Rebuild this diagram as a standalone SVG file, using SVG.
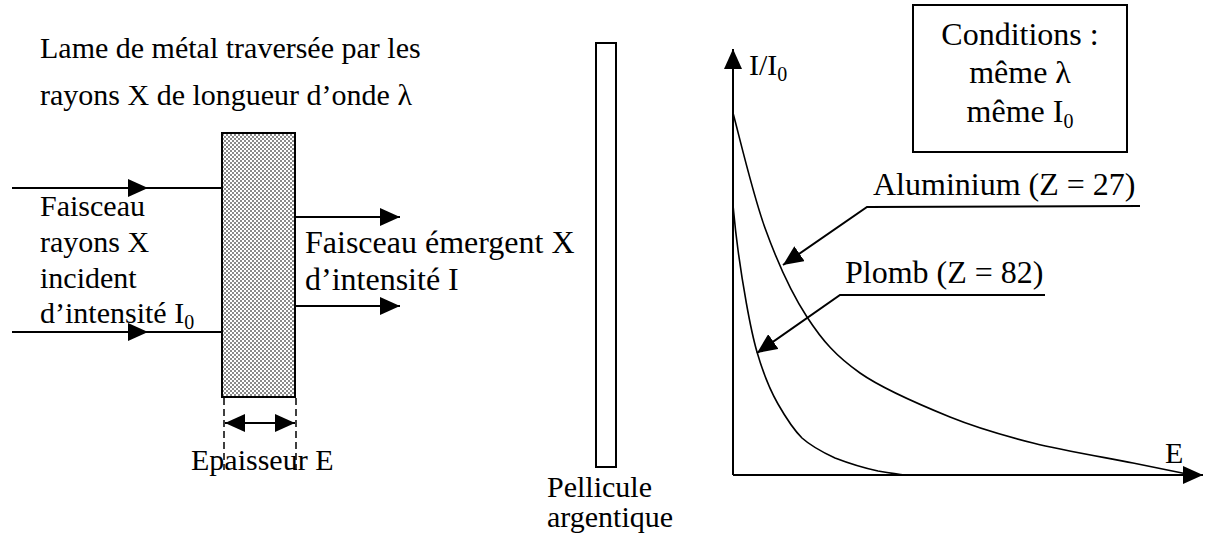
<svg xmlns="http://www.w3.org/2000/svg" width="1207" height="545" viewBox="0 0 1207 545">
<style>
text{font-family:"Liberation Serif","Times New Roman",serif;font-size:30px;fill:#000}
.big{font-size:32px}
.sub{font-size:20px}
.ln{stroke:#000;stroke-width:2;fill:none}
.dash{stroke:#000;stroke-width:1.5;stroke-dasharray:7,4;fill:none}
.curve{stroke:#000;stroke-width:1.6;fill:none}
</style>
<defs>
<marker id="ah" markerUnits="userSpaceOnUse" markerWidth="22" markerHeight="18" refX="20" refY="9" orient="auto">
<path d="M0,0 L20,9 L0,18 Z" fill="#000"/>
</marker>
<marker id="ahs" markerUnits="userSpaceOnUse" markerWidth="22" markerHeight="18" refX="0" refY="9" orient="auto">
<path d="M20,0 L0,9 L20,18 Z" fill="#000"/>
</marker>
<pattern id="dots" width="4" height="4" patternUnits="userSpaceOnUse">
<rect width="4" height="4" fill="#ffffff"/>
<rect x="0" y="0" width="2" height="2" fill="#8a8a8a"/>
<rect x="2" y="2" width="2" height="2" fill="#8a8a8a"/>
</pattern>
</defs>

<g id="title">
<text x="40" y="58">Lame de métal traversée par les</text>
<text x="40" y="105">rayons X de longueur d’onde λ</text>
</g>

<g id="plate">
<rect x="222" y="133" width="73" height="264" fill="url(#dots)" stroke="#000" stroke-width="2"/>
</g>

<g id="incident-label">
<text x="40" y="216" font-size="31">Faisceau</text>
<text x="40" y="252" font-size="31">rayons X</text>
<text x="40" y="288" font-size="31">incident</text>
<text x="40" y="323" font-size="31">d’intensité I<tspan class="sub" dy="6">0</tspan></text>
</g>

<g id="emergent-label">
<text class="big" x="305" y="253">Faisceau émergent X</text>
<text class="big" x="305" y="290">d’intensité I</text>
</g>

<g id="thickness-label">
<text x="191" y="470">Epaisseur E</text>
</g>

<g id="film">
<rect x="596" y="43" width="20" height="424" fill="#fff" stroke="#000" stroke-width="2"/>
<text x="547" y="497" font-size="31">Pellicule</text>
<text x="547" y="527" font-size="31">argentique</text>
</g>

<g id="conditions">
<rect x="913" y="5" width="214" height="147" fill="#fff" stroke="#000" stroke-width="2"/>
<text class="big" x="1020" y="45" text-anchor="middle">Conditions :</text>
<text class="big" x="1020" y="83" text-anchor="middle">même λ</text>
<text class="big" x="1020" y="122" text-anchor="middle">même I<tspan class="sub" dy="6">0</tspan></text>
</g>

<g id="axes">
<line class="ln" x1="733" y1="475" x2="733" y2="49" marker-end="url(#ah)"/>
<line class="ln" x1="733" y1="475" x2="1203" y2="475" marker-end="url(#ah)"/>
<text x="749" y="75">I/I<tspan class="sub" dy="6">0</tspan></text>
<text x="1165" y="463">E</text>
</g>

<g id="aluminium">
<path class="curve" d="M733,113 C738.3,132.2 752.7,194 765,228 C777.3,262 791.2,292.8 807,317 C822.8,341.2 836.2,356.3 860,373 C883.8,389.7 921.2,405.3 950,417 C978.8,428.7 1002.5,435.3 1033,443 C1063.5,450.7 1106.5,457.7 1133,463 C1159.5,468.3 1182.2,473 1192,475"/>
<text class="big" x="873" y="195">Aluminium (Z = 27)</text>
</g>

<g id="plomb">
<path class="curve" d="M733,205 C734,215 735,228 738,250 C742,280 750,328 757,352 C764,376 770,390 778,404 C786,418 793,429 802,438 C812,447 822,452 835,458 C848,463 864,468 878,471 C890,473 900,474.5 905,475"/>
<text class="big" x="845" y="283">Plomb (Z = 82)</text>
</g>

<g id="connectors">
<line class="ln" x1="12" y1="188" x2="148" y2="188" marker-end="url(#ah)"/>
<line class="ln" x1="146" y1="188" x2="222" y2="188"/>
<line class="ln" x1="12" y1="332" x2="148" y2="332" marker-end="url(#ah)"/>
<line class="ln" x1="146" y1="332" x2="222" y2="332"/>
<line class="ln" x1="295" y1="217" x2="400" y2="217" marker-end="url(#ah)"/>
<line class="ln" x1="295" y1="306" x2="400" y2="306" marker-end="url(#ah)"/>
<line class="dash" x1="224" y1="398" x2="224" y2="470"/>
<line class="dash" x1="296" y1="398" x2="296" y2="470"/>
<line class="ln" x1="225" y1="423" x2="295" y2="423" marker-start="url(#ahs)" marker-end="url(#ah)"/>
<polyline class="ln" points="1140,206 867,207 783,265" marker-end="url(#ah)"/>
<polyline class="ln" points="1045,295 840,295 757,353" marker-end="url(#ah)"/>
</g>
</svg>
